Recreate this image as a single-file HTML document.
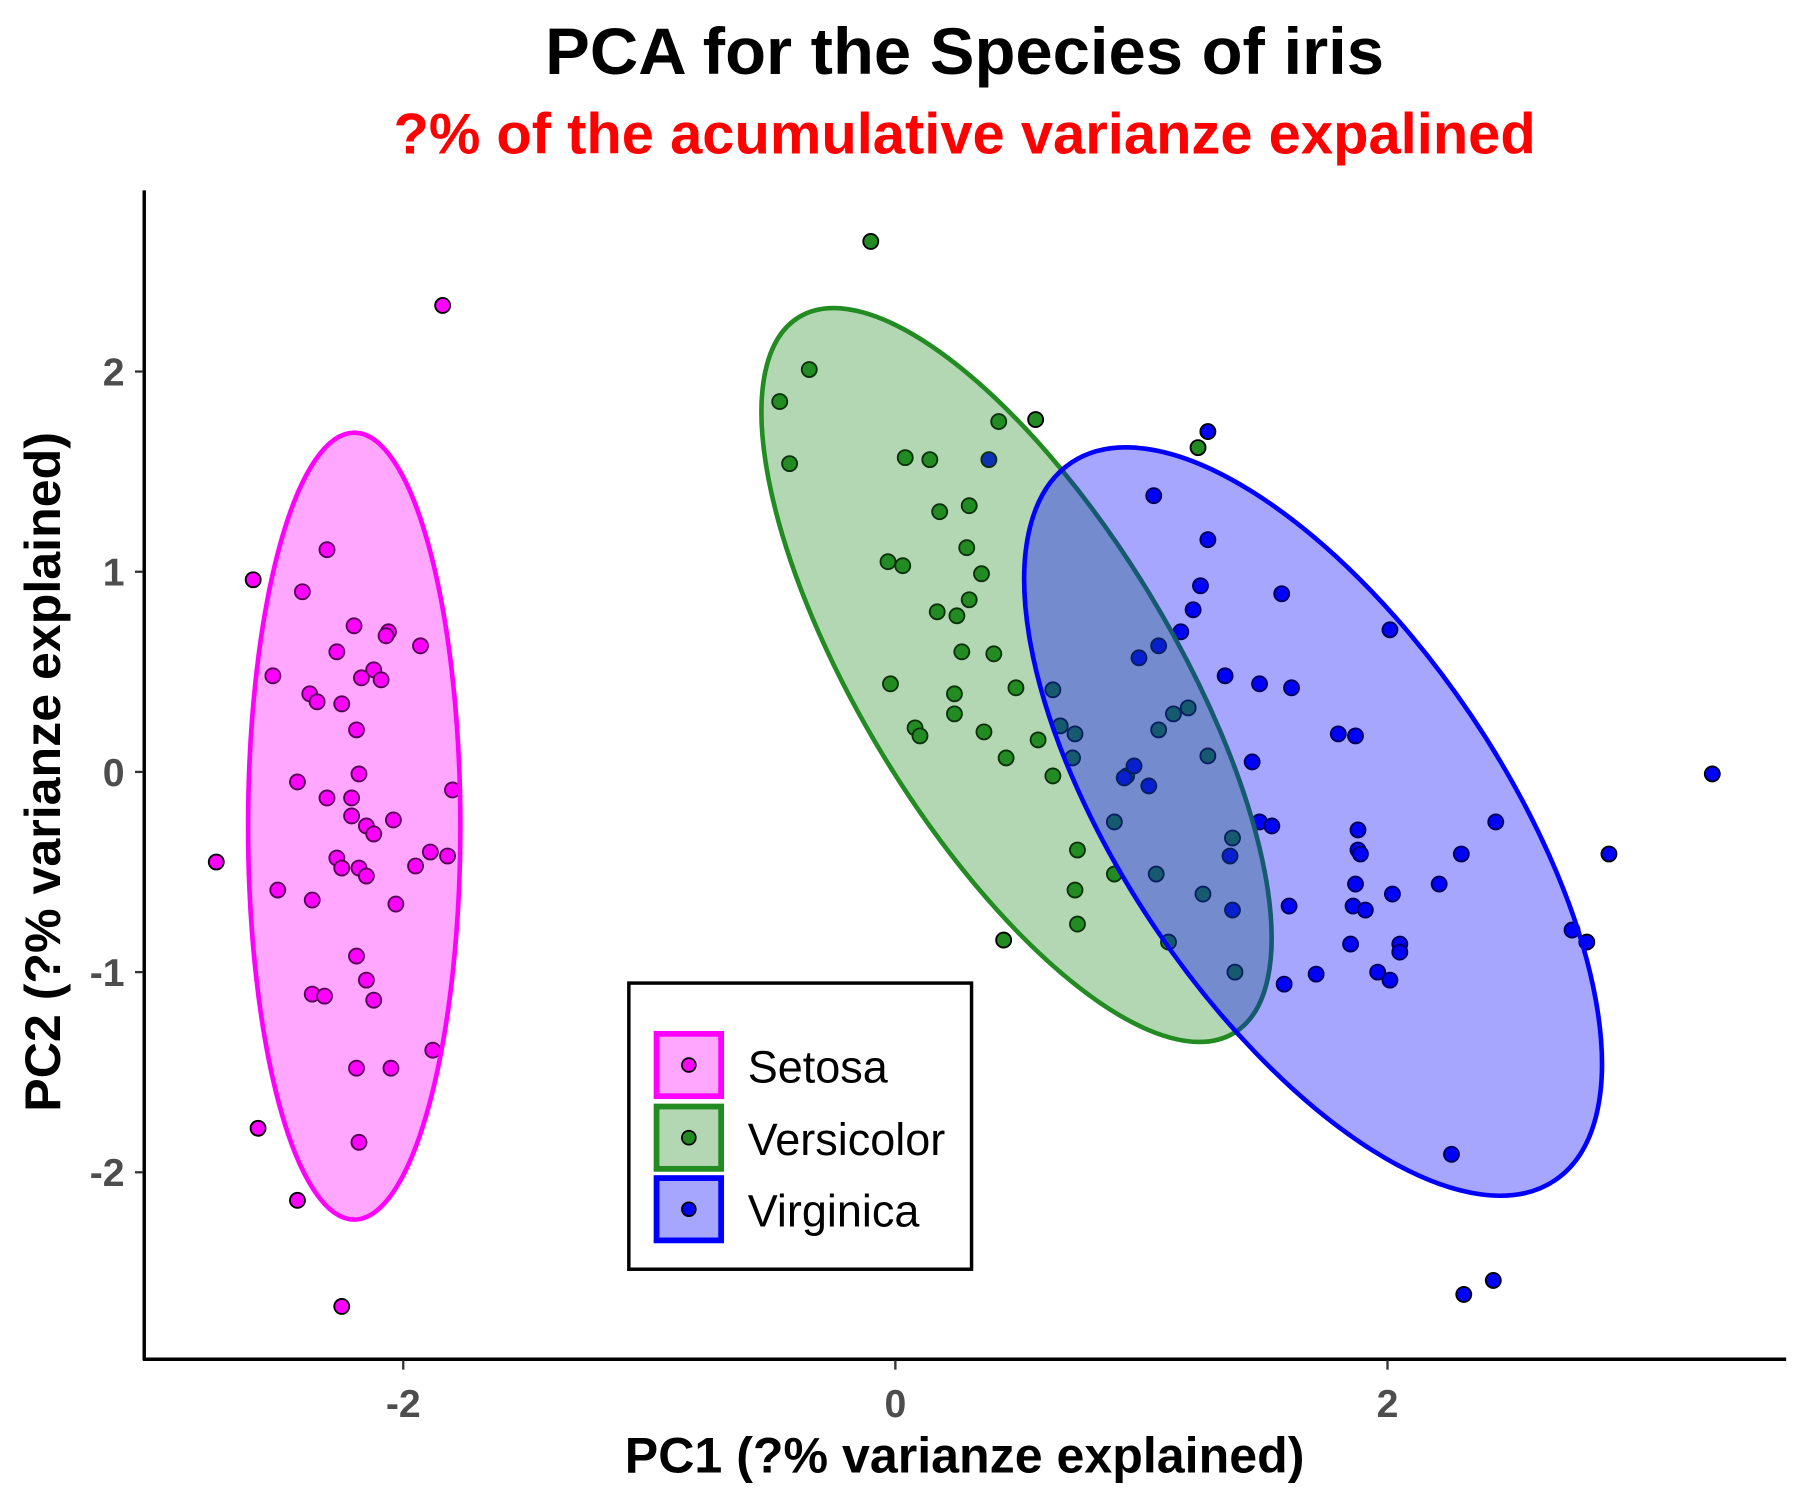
<!DOCTYPE html>
<html><head><meta charset="utf-8"><style>
html,body{margin:0;padding:0;background:#fff;}
svg{display:block;font-family:"Liberation Sans",Arial,sans-serif;}
</style></head><body>
<svg id="chart" width="1800" height="1500" viewBox="0 0 1560 1300" xmlns="http://www.w3.org/2000/svg">
<rect width="1560" height="1300" fill="#fff"/>
<text x="836" y="64" font-size="57" font-weight="bold" text-anchor="middle" textLength="727" lengthAdjust="spacingAndGlyphs">PCA for the Species of iris</text>
<text x="836" y="133" font-size="50" font-weight="bold" fill="#ff0000" text-anchor="middle" textLength="990" lengthAdjust="spacingAndGlyphs">?% of the acumulative varianze expalined</text>
<g id="ellipses"></g>
<g id="points"></g>
<line x1="125" y1="165" x2="125" y2="1179" stroke="#000" stroke-width="3"/>
<line x1="124" y1="1178" x2="1548" y2="1178" stroke="#000" stroke-width="3"/>
<g id="ticks"></g>
<text x="836" y="1276" font-size="43" font-weight="bold" text-anchor="middle" textLength="589" lengthAdjust="spacingAndGlyphs">PC1 (?% varianze explained)</text>
<text transform="translate(52,669) rotate(-90)" font-size="43" font-weight="bold" text-anchor="middle" textLength="589" lengthAdjust="spacingAndGlyphs">PC2 (?% varianze explained)</text>
<g>
<rect x="545" y="852" width="297" height="248" fill="#fff" stroke="#000" stroke-width="3"/>
<g>
<rect x="569" y="896" width="56" height="54" fill="rgba(255,0,255,0.35)" stroke="#ff00ff" stroke-width="5"/>
<circle cx="597" cy="923" r="6" fill="#ff00ff" stroke="#000" stroke-width="1.5"/>
<text x="648" y="938" font-size="39">Setosa</text></g>
<g>
<rect x="569" y="959" width="56" height="54" fill="rgba(34,139,34,0.35)" stroke="#228b22" stroke-width="5"/>
<circle cx="597" cy="986" r="6" fill="#228b22" stroke="#000" stroke-width="1.5"/>
<text x="648" y="1001" font-size="39">Versicolor</text></g>
<g>
<rect x="569" y="1021" width="56" height="54" fill="rgba(0,0,255,0.35)" stroke="#0000ff" stroke-width="5"/>
<circle cx="597" cy="1048" r="6" fill="#0000ff" stroke="#000" stroke-width="1.5"/>
<text x="648" y="1063" font-size="39">Virginica</text></g>
</g>
</svg>
<script>
const xTicks = [-2, 0, 2];
const yTicks = [-2, -1, 0, 1, 2];
const setosaX = [-1.84,-2.61,-2.31,-2.41,-2.20,-2.06,-2.07,-1.93,-2.27,-2.53,-2.12,-2.17,-2.09,-2.38,-2.35,-2.25,-2.19,-2.18,-2.43,-1.80,-2.31,-2.21,-2.21,-2.04,-2.15,-2.12,-2.27,-2.25,-1.82,-1.89,-1.95,-2.18,-2.15,-2.76,-2.51,-2.37,-2.03,-2.19,-2.15,-2.12,-2.37,-2.32,-1.88,-2.19,-2.05,-2.59,-2.18,-2.43,-2.25];
const setosaY = [2.33,0.96,1.11,0.90,0.73,0.70,0.68,0.63,0.60,0.48,0.51,0.47,0.46,0.39,0.35,0.34,0.21,-0.01,-0.05,-0.09,-0.13,-0.13,-0.22,-0.24,-0.27,-0.31,-0.43,-0.48,-0.42,-0.40,-0.47,-0.48,-0.52,-0.45,-0.59,-0.64,-0.66,-0.92,-1.04,-1.14,-1.11,-1.12,-1.39,-1.48,-1.48,-1.78,-1.85,-2.14,-2.67];
const versiX = [-0.10,-0.35,-0.47,-0.43,0.42,0.57,0.04,0.14,1.23,0.30,0.18,0.29,0.35,-0.03,0.03,0.30,0.17,0.25,0.27,0.40,-0.02,0.49,0.24,0.24,0.64,0.08,0.10,0.36,0.67,0.73,0.58,0.45,0.72,0.64,0.94,1.07,1.13,1.19,1.27,0.89,0.74,0.89,0.73,1.06,0.74,0.44,1.37,1.25,1.11,1.38];
const versiY = [2.65,2.01,1.85,1.54,1.75,1.76,1.57,1.56,1.62,1.33,1.30,1.12,0.99,1.05,1.03,0.86,0.80,0.78,0.60,0.59,0.44,0.42,0.39,0.29,0.41,0.22,0.18,0.20,0.23,0.19,0.16,0.07,0.07,-0.02,-0.02,0.21,0.29,0.32,0.08,-0.25,-0.39,-0.51,-0.59,-0.51,-0.76,-0.84,-0.33,-0.61,-0.85,-1.00];
const virgX = [1.27,0.38,1.05,1.27,1.24,1.57,1.21,2.01,1.16,1.07,0.99,1.34,1.48,1.61,1.80,1.87,1.45,0.97,0.93,1.03,3.32,1.48,1.53,2.44,1.88,1.36,1.88,1.89,2.30,2.90,2.21,1.87,2.02,1.60,1.37,1.86,1.91,2.75,2.81,1.85,2.05,2.05,1.96,2.01,1.71,1.58,2.26,2.43,2.31];
const virgY = [1.70,1.56,1.38,1.16,0.93,0.89,0.81,0.71,0.70,0.63,0.57,0.48,0.44,0.42,0.19,0.18,0.05,0.03,-0.03,-0.07,-0.01,-0.25,-0.27,-0.25,-0.29,-0.42,-0.39,-0.41,-0.41,-0.41,-0.56,-0.56,-0.61,-0.67,-0.69,-0.67,-0.69,-0.79,-0.85,-0.86,-0.86,-0.90,-1.00,-1.04,-1.01,-1.06,-1.91,-2.54,-2.61];

const NS = 'http://www.w3.org/2000/svg';
const X0 = 776, XU = 213.25, Y0 = 669, YU = 173.5;
function sx(v){ return X0 + v * XU; }
function sy(v){ return Y0 - v * YU; }

const ticks = document.getElementById('ticks');
xTicks.forEach(t => {
  const l = document.createElementNS(NS, 'line');
  l.setAttribute('x1', sx(t)); l.setAttribute('x2', sx(t));
  l.setAttribute('y1', 1179); l.setAttribute('y2', 1187);
  l.setAttribute('stroke', '#333'); l.setAttribute('stroke-width', 2);
  
  
  ticks.appendChild(l);
  const tx = document.createElementNS(NS, 'text');
  tx.setAttribute('x', sx(t)); tx.setAttribute('y', 1228);
  tx.setAttribute('font-size', 34); tx.setAttribute('font-weight', 'bold');
  tx.setAttribute('fill', '#4d4d4d'); tx.setAttribute('text-anchor', 'middle');
  tx.textContent = t;
  
  
  ticks.appendChild(tx);
});
yTicks.forEach(t => {
  const l = document.createElementNS(NS, 'line');
  l.setAttribute('x1', 117); l.setAttribute('x2', 124);
  l.setAttribute('y1', sy(t)); l.setAttribute('y2', sy(t));
  l.setAttribute('stroke', '#333'); l.setAttribute('stroke-width', 2);
  
  
  ticks.appendChild(l);
  const tx = document.createElementNS(NS, 'text');
  tx.setAttribute('x', 108); tx.setAttribute('y', sy(t) + 12);
  tx.setAttribute('font-size', 34); tx.setAttribute('font-weight', 'bold');
  tx.setAttribute('fill', '#4d4d4d'); tx.setAttribute('text-anchor', 'end');
  tx.textContent = t;
  
  
  ticks.appendChild(tx);
});

const pts = document.getElementById('points');
function drawPts(xs, ys, color, name){
  xs.forEach((v, i) => {
    const c = document.createElementNS(NS, 'circle');
    c.setAttribute('cx', sx(v)); c.setAttribute('cy', sy(ys[i]));
    c.setAttribute('r', 6.5); c.setAttribute('fill', color);
    c.setAttribute('stroke', '#000'); c.setAttribute('stroke-width', 1.6);
    
    
    pts.appendChild(c);
  });
}
drawPts(setosaX, setosaY, '#ff00ff', 'setosa-point');
drawPts(versiX, versiY, '#228b22', 'versicolor-point');
drawPts(virgX, virgY, '#0000ff', 'virginica-point');

const ell = document.getElementById('ellipses');
function drawEll(cx, cy, rx, ry, ang, stroke, fill, name){
  const e = document.createElementNS(NS, 'ellipse');
  e.setAttribute('cx', cx); e.setAttribute('cy', cy);
  e.setAttribute('rx', rx); e.setAttribute('ry', ry);
  e.setAttribute('transform', 'rotate(' + ang + ' ' + cx + ' ' + cy + ')');
  e.setAttribute('fill', fill); e.setAttribute('stroke', stroke);
  e.setAttribute('stroke-width', 4);
  
  
  ell.appendChild(e);
}
drawEll(307, 716, 92, 341, 0, '#ff00ff', 'rgba(255,0,255,0.35)', 'setosa-ellipse');
drawEll(881, 585, 363, 135, 58.7, '#228b22', 'rgba(34,139,34,0.35)', 'versicolor-ellipse');
drawEll(1138, 712, 375, 165, 56, '#0000ff', 'rgba(0,0,255,0.35)', 'virginica-ellipse');
pts.parentNode.insertBefore(pts, ell);
</script>
</body></html>
